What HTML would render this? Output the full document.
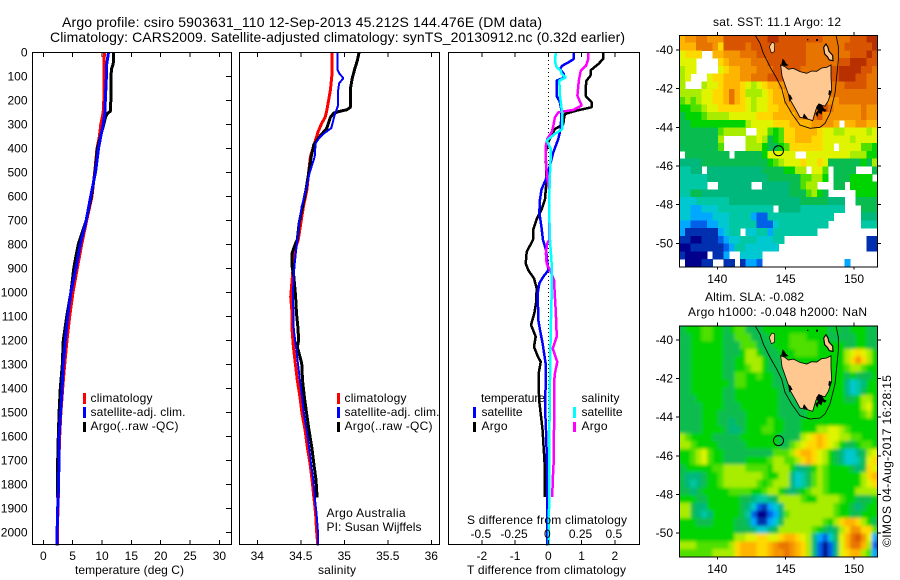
<!DOCTYPE html>
<html lang="en">
<head>
<meta charset="utf-8">
<title>Argo profile 5903631_110</title>
<style>
html,body{margin:0;padding:0;background:#fff;}
svg{display:block;}
text{font-family:"Liberation Sans",sans-serif;font-size:12px;fill:#000;}
.ttl{font-size:14px;}
.frame{fill:none;stroke:#000;stroke-width:1;shape-rendering:crispEdges;}
</style>
</head>
<body>
<svg id="chart" xmlns="http://www.w3.org/2000/svg" width="900" height="580" viewBox="0 0 900 580">
  <text class="ttl" x="62" y="27" textLength="480">Argo profile: csiro 5903631_110 12-Sep-2013 45.212S 144.476E (DM data)</text>
  <text class="ttl" x="50" y="42" textLength="575">Climatology: CARS2009. Satellite-adjusted climatology: synTS_20130912.nc (0.32d earlier)</text>

  <g id="maps"></g>
  <g id="plots"></g>

  <text x="75" y="574" textLength="109">temperature (deg C)</text>
  <text x="318" y="574" textLength="38">salinity</text>
  <text x="467" y="574" textLength="159">T difference from climatology</text>
  <text x="467" y="524" textLength="160">S difference from climatology</text>

  <g>
    <rect x="83" y="393" width="3" height="11" fill="#ff0000"/>
    <rect x="83" y="407" width="3" height="11" fill="#0000ff"/>
    <rect x="83" y="422" width="3" height="10" fill="#000"/>
    <text x="90.5" y="402" textLength="62">climatology</text>
    <text x="90.5" y="416" textLength="95">satellite-adj. clim.</text>
    <text x="90.5" y="430" textLength="88">Argo(..raw -QC)</text>
  </g>
  <g>
    <rect x="337" y="393" width="3" height="11" fill="#ff0000"/>
    <rect x="337" y="407" width="3" height="11" fill="#0000ff"/>
    <rect x="337" y="422" width="3" height="10" fill="#000"/>
    <text x="344.5" y="402" textLength="62">climatology</text>
    <text x="344.5" y="416" textLength="95">satellite-adj. clim.</text>
    <text x="344.5" y="430" textLength="88">Argo(..raw -QC)</text>
  </g>
  <text x="326.5" y="517" textLength="79">Argo Australia</text>
  <text x="326.5" y="531" textLength="95">PI: Susan Wijffels</text>

  <g>
    <text x="481" y="402" textLength="64">temperature</text>
    <text x="581.5" y="402" textLength="38">salinity</text>
    <rect x="473" y="407" width="3" height="11" fill="#0000ff"/>
    <rect x="473" y="422" width="3" height="10" fill="#000"/>
    <rect x="573" y="407" width="3" height="11" fill="#00ffff"/>
    <rect x="573" y="422" width="3" height="10" fill="#ff00ff"/>
    <text x="481.5" y="416" textLength="41">satellite</text>
    <text x="481.5" y="430" textLength="26">Argo</text>
    <text x="581.5" y="416" textLength="41">satellite</text>
    <text x="581.5" y="430" textLength="26">Argo</text>
  </g>

  <text x="777" y="26" text-anchor="middle" textLength="128">sat. SST: 11.1 Argo: 12</text>
  <text x="705" y="301" textLength="99">Altim. SLA: -0.082</text>
  <text x="688" y="316" textLength="179">Argo h1000: -0.048 h2000: NaN</text>
  <text transform="translate(891,547) rotate(-90)" textLength="172">©IMOS 04-Aug-2017 16:28:15</text>
</svg>

<script>
// ---- chart data ----
const depthTicks = [0,100,200,300,400,500,600,700,800,900,1000,1100,1200,1300,1400,1500,1600,1700,1800,1900,2000];
const tempTicks = [0,5,10,15,20,25,30];
const salTicks = [34,34.5,35,35.5,36];
const salTickLabels = ['34','34.5','35','35.5','36'];
const tDiffTicks = [-2,-1,0,1,2];
const sDiffTicks = [-0.5,-0.25,0,0.25,0.5];
const sDiffTickLabels = ['-0.5','-0.25','0','0.25','0.5'];
const lonTicks = [140,145,150];
const latTicks = [-40,-42,-44,-46,-48,-50];
const profileLon = [144.476];
const profileLat = [-45.212];

const tempClimDepth = [0,200,250,300,350,400,500,600,700,800,900,1000,1100,1200,1300,1400,1500,1600,1700,1800,1900,2000,2054];
const tempClim = [10.4,10.3,10.2,9.8,9.55,9.15,8.75,8.3,7.4,6.55,5.8,5.06,4.5,4.04,3.64,3.3,3.0,2.8,2.65,2.6,2.5,2.39,2.39];
const tempSatDepth = [0,50,100,200,250,300,350,400,500,600,700,800,900,1000,1100,1200,1300,1400,1500,1600,1700,1800,1900,2000,2054];
const tempSat = [11.1,10.8,10.75,10.56,10.5,10.2,9.8,9.4,8.9,8.07,7.3,6.3,5.55,4.7,4.15,3.75,3.4,3.2,2.95,2.7,2.65,2.6,2.45,2.35,2.35];
const tempArgoDepth = [0,50,70,100,200,245,255,270,300,350,400,500,600,700,800,850,900,1000,1100,1200,1300,1400,1500,1600,1700,1855];
const tempArgo = [12,11.9,11.6,11.55,11.5,11.45,10.9,10.6,10.3,9.75,9.2,8.8,8.2,7.3,5.96,5.55,5.2,4.7,3.98,3.4,3.24,2.9,2.7,2.56,2.45,2.45];

const salClimDepth = [0,87,157,200,240,270,296,330,365,400,435,504,573,643,712,782,810,880,949,1018,1088,1157,1227,1296,1366,1435,1505,1574,1644,1713,1782,1852,1921,1991,2054];
const salClim = [34.86,34.86,34.84,34.82,34.8,34.78,34.74,34.7,34.67,34.64,34.61,34.59,34.57,34.53,34.5,34.47,34.445,34.415,34.4,34.384,34.4,34.4,34.415,34.437,34.46,34.49,34.514,34.55,34.575,34.606,34.63,34.65,34.67,34.68,34.695];
const salSatDepth = [0,40,70,87,108,129,157,220,261,316,337,358,379,435,504,573,643,712,782,810,880,949,1018,1088,1157,1227,1296,1366,1435,1505,1574,1644,1713,1782,1852,1921,1991,2054];
const salSat = [34.92,34.92,34.92,34.94,34.99,34.94,34.93,34.93,34.89,34.85,34.77,34.71,34.67,34.66,34.6,34.56,34.51,34.48,34.46,34.45,34.43,34.415,34.41,34.415,34.42,34.445,34.467,34.49,34.514,34.536,34.567,34.594,34.617,34.644,34.66,34.68,34.695,34.695];
const salArgoDepth = [0,35,70,111,153,229,239,246,253,271,316,350,385,435,504,573,643,712,782,795,837,892,934,1018,1088,1143,1199,1227,1255,1296,1366,1435,1505,1574,1644,1713,1782,1855];
const salArgo = [35.17,35.15,35.12,35.09,35.07,35.07,35.03,34.95,34.88,34.84,34.8,34.72,34.65,34.62,34.59,34.56,34.52,34.48,34.46,34.44,34.4,34.4,34.42,34.44,34.45,34.465,34.476,34.46,34.48,34.51,34.52,34.54,34.567,34.594,34.625,34.65,34.675,34.687];

const dTArgoDepth = [0,28,49,76,97,118,153,181,208,229,243,257,278,299,320,348,375,417,528,612,654,695,737,782,831,880,908,942,984,1046,1088,1136,1185,1227,1262,1290,1331,1394,1456,1505,1574,1644,1713,1852];
const dTArgo = [1.66,1.65,1.5,1.27,1.27,1.15,1.12,1.12,1.3,1.3,0.85,0.5,0.47,0.45,0.2,0.1,0,-0.08,-0.05,-0.1,-0.2,-0.35,-0.45,-0.46,-0.65,-0.68,-0.6,-0.43,-0.35,-0.37,-0.42,-0.52,-0.38,-0.43,-0.33,-0.23,-0.28,-0.29,-0.27,-0.23,-0.17,-0.14,-0.11,-0.1];
const dTSatDepth = [0,28,42,56,70,90,107,118,181,208,243,320,361,417,472,528,570,612,667,723,782,824,908,935,963,1005,1116,1157,1213,1296,1366,1505,1574,1713,1852,1991,2054];
const dTSat = [0.77,0.77,0.6,0.42,0.35,0.47,0.45,0.25,0.25,0.35,0.4,0.37,0.3,0.15,0.05,-0.07,-0.2,-0.25,-0.27,-0.21,-0.16,-0.07,0,-0.15,-0.27,-0.32,-0.3,-0.25,-0.17,-0.08,-0.08,-0.09,-0.07,-0.04,-0.04,-0.03,-0.03];
const dSArgoDepth = [0,28,56,76,118,181,222,240,250,271,306,334,361,389,445,500,570,639,782,796,838,880,908,949,1018,1067,1130,1185,1234,1290,1338,1380,1435,1574,1713,1782,1852];
const dSArgo = [0.3,0.3,0.284,0.244,0.229,0.219,0.251,0.188,0.075,0.05,0.038,0.025,-0.008,-0.018,-0.018,-0.013,0.005,0.008,0.008,-0.008,-0.018,-0.013,0.013,0.043,0.05,0.055,0.06,0.063,0.033,0.068,0.05,0.043,0.043,0.043,0.04,0.033,0.03];
const dSSatDepth = [0,42,63,76,90,104,118,181,250,320,340,368,403,500,639,782,880,1018,1157,1366,1574,1713,2054];
const dSSat = [0.055,0.053,0.063,0.093,0.1,0.133,0.083,0.088,0.103,0.105,0.05,-0.013,0.02,0.013,0.005,0.013,0.025,0.025,0.018,0.013,0.008,0.008,0.003];

// heat-map rows: one letter = one colour level, '.' = no data
const sstRows = [
"nooppoooqqqqqqqqrrqqqqqqqqpppppqqqrr",
"nnnpppomqqqqpqqqqqqqqqqpppppppqqqqqr",
"lmmm..nnooopppqqqqqqqqqppppppppqqqrq",
"lll....mnoooopppqqqqqqqppppppqqrrrqq",
"kll....lmnnooopppqqqqqpppppqqrrrrqqp",
"kl...lmmnnnoopppqqqqqqppppqqqrrrqqpp",
"k...kllmnnnmlklmnnoppqqqqpppppqqqqpp",
"kkkkllmmnpnmkkklmnnopppqqqpppppppppp",
"jkjkllmmnpnmlkllmnnooppqqqpooppppppp",
"iijjkllmmmmmlkllmmnnoopppqqpooooopoo",
"hiiijkkkklllllmmmnnnnooppqooooooopoo",
"hhiiiiiiiiiikllllmmmnnnnoooon.nnoonn",
"hhhhhhhjkkkk..lljijmmnnnnmllkkllllkl",
"hhhhhhhk....kklkhijmmnnnmmlllllkllll",
"hhhhhhhj....kkkihhijmmmmmmll.lllljji",
".hhhhhhhh.hhhhhilllll..llllllllkkkii",
"gggghhhhhhhhhhhhijklllmllmlhhhhhhihk",
"ffgg.gggggggggghhhhiikk.llj.hhhh...h",
"fffffggggggggggghhhhhhjjkki.hhhiiii.",
"fffff..gggggg..ggggghhjkk...hh.iiiii",
"ffhhgggggggggggggggghhhjkih.....iiii",
"eeeffffffggggggggggggghhhhhggg..hhhh",
"eeddeeeffffffffff.ggggffffffff...hhh",
"eeddddeeeffffdccffffffffffff.....ggg",
"ddcccddeefffffcccefffffffff......fff",
"dbbbbbbdeff.eeffdffffffff...........",
"bbaabbbcdeefffeeeff...............bb",
"aabbbbbbcdffeeeeee................bb",
"baaaa.bbd..eeee.....................",
".aaabb..bb.bddc...............d....."
];
const slaRows = [
"hiiijjiihijjhhhiiiiiiiiiiiihihhiiihh",
"hhiijjiihhjjjhhhiiiijjjiiiihhhhhiihh",
"hhiiiiiihhhjjjhhhiiijjjjjiiiiihhiihh",
"hhiiiiiihhhikkihhhiiijjjjiiiiiklmlki",
"hhiiiiiihhiikkkihhhiiiiiiiiiiikmomki",
"hhiiiiiihhiijkkihhhiiiiiiiiiiijkkjii",
"hhiiiiiihhjjiijiihhhiiiiiiiiiihihhhi",
"hhiiiiiiihjjiiiiihhhhiiiiiiiiigefgii",
"hhiiiiiihhiiiiiiiihhhiiiiiiiiigefhii",
"hhhiiiiihhiiiiiiiihhhhiiiiiiiihhikki",
"hhhhiiiihhhiiiiiiihhhhhiiiiiiiiiikli",
"hhhhiiihhhhhiiiiiihhhhhiiiiiiiiiijki",
"hhhhiiihhghhiiiijiihhhiiiiiiiiiiiiii",
"hhhhiiiihgghiiijjiihhhiiikkllkjiiiii",
"kjiiiihhhhhiiiiiiihhhhklmnmllkkjjiii",
"kkjiiiihhhhhiiiiiihhjklmmnmlkihhijji",
"iijkljiihhhhhhhhhjjjkmnnmlkihgeeghkl",
"iijkljiihhhhiiiijkkjjkmnmlkihgeefhlm",
"hiiiiijjkkkkjjjjikkkigghikjiiiihghml",
"hggghiijkkkkkkkjiikkgefhjkjiiiiiikmn",
"hgfghiijkkkkkkjijkkkgefhjkjiiiiiiklm",
"hhghiiiiijjjjiijkkihghijkkjiiiiikkkk",
"iiihhiiiiiihhgffghkkkkjiikkkkjiihhhi",
"kkhggiiiiiihgecbdegkkkkkkkkkjiihghii",
"kkhgfgiiiiihfcaacdgjkkkkkkkkjiihhiii",
"iiihhhiiiihhgdbbdehkkkkkkkjikmnnmkih",
"iiiiiiiiiihhhgeeghkkkkkkjihghkmoommj",
"iiiiiiiiiikkllmmllmnnmlkgdcehlnpqold",
"kkkjjjjjjkmnnnmmnopponmkgcacglnppnkc",
"jjjjjjkkkkmnnnmmnooponmkgcacglmnnkjd"
];
const levelKeys = ['a','b','c','d','e','f','g','h','i','j','k','l','m','n','o','p','q','r'];
const levelColors = ['#00008c','#0030b0','#0060e8','#00a8ff','#00c8d0','#00c8a4','#00b87c','#08bc50','#00d400','#50e000','#a8ec00','#e0f400','#ffd800','#ffb400','#f49400','#e87400','#d85400','#b83000'];

// ---- build ----
const NS = 'http://www.w3.org/2000/svg';
const plots = document.getElementById('plots');
const maps = document.getElementById('maps');

function make(tag, parent, props) {
  const el = document.createElementNS(NS, tag);
  for (const k in props) el.setAttribute(k, props[k]);
  parent.appendChild(el);
  return el;
}

// axis functions
const yDepth = d => 52.3 + 0.24 * d;
const xTemp = t => 43.3 + 5.87 * t;
const xSal = s => 257.3 + 87 * (s - 34);
const xDT = t => 548.3 + 33.25 * t;
const xDS = s => 548.3 + 133 * s;

function drawProfile(parent, name, depths, values, xFn, color, width) {
  const pts = depths.map((d, i) => xFn(values[i]).toFixed(1) + ',' + yDepth(d).toFixed(1)).join(' ');
  const el = make('polyline', parent, {points: pts, fill: 'none', stroke: color, 'stroke-width': width, 'stroke-linejoin': 'bevel', 'shape-rendering': 'crispEdges'});
  
  
}

function tick(parent, name, x1, y1, x2, y2) {
  const el = make('line', parent, {x1: x1, y1: y1, x2: x2, y2: y2, stroke: '#000', 'stroke-width': 1, 'shape-rendering': 'crispEdges'});
  
  
}

function label(parent, name, x, y, str, anchor) {
  const el = make('text', parent, {x: x, y: y, 'text-anchor': anchor});
  el.textContent = str;
  
  
}

function frame(parent, name, x, y, w, h) {
  const el = make('rect', parent, {x: x, y: y, width: w, height: h, class: 'frame'});
  
  
}

// temperature panel
const tempPanel = make('g', plots, {});


drawProfile(tempPanel, 'temperature-climatology-line', tempClimDepth, tempClim, xTemp, '#ff0000', 3);
drawProfile(tempPanel, 'temperature-argo-line', tempArgoDepth, tempArgo, xTemp, '#000000', 3);
drawProfile(tempPanel, 'temperature-satellite-line', tempSatDepth, tempSat, xTemp, '#0000ff', 3);
frame(tempPanel, 'temperature-plot-frame', 32.5, 52.5, 199, 492);
depthTicks.forEach(d => {
  tick(tempPanel, 'depth-tick', 226, yDepth(d), 231, yDepth(d));
  label(tempPanel, 'depth-tick-label', 27.5, yDepth(d) + 4, String(d), 'end');
});
tempTicks.forEach(t => {
  tick(tempPanel, 'temperature-tick-top', xTemp(t), 52, xTemp(t), 57);
  tick(tempPanel, 'temperature-tick-bottom', xTemp(t), 540, xTemp(t), 545);
  label(tempPanel, 'temperature-tick-label', xTemp(t), 560, String(t), 'middle');
});

// salinity panel
const salPanel = make('g', plots, {});


drawProfile(salPanel, 'salinity-climatology-line', salClimDepth, salClim, xSal, '#ff0000', 3);
drawProfile(salPanel, 'salinity-argo-line', salArgoDepth, salArgo, xSal, '#000000', 3);
drawProfile(salPanel, 'salinity-satellite-line', salSatDepth, salSat, xSal, '#0000ff', 2);
frame(salPanel, 'salinity-plot-frame', 239.5, 52.5, 200, 492);
salTicks.forEach((s, i) => {
  tick(salPanel, 'salinity-tick-top', xSal(s), 52, xSal(s), 57);
  tick(salPanel, 'salinity-tick-bottom', xSal(s), 540, xSal(s), 545);
  label(salPanel, 'salinity-tick-label', xSal(s), 560, salTickLabels[i], 'middle');
});

// difference panel
const diffPanel = make('g', plots, {});


const zeroLine = make('line', diffPanel, {x1: xDT(0), y1: 52, x2: xDT(0), y2: 545, stroke: '#000', 'stroke-width': 1, 'stroke-dasharray': '1 3', 'shape-rendering': 'crispEdges'});


drawProfile(diffPanel, 't-difference-argo-line', dTArgoDepth, dTArgo, xDT, '#000000', 2.5);
drawProfile(diffPanel, 't-difference-satellite-line', dTSatDepth, dTSat, xDT, '#0000ff', 2.5);
drawProfile(diffPanel, 's-difference-argo-line', dSArgoDepth, dSArgo, xDS, '#ff00ff', 2.5);
drawProfile(diffPanel, 's-difference-satellite-line', dSSatDepth, dSSat, xDS, '#00ffff', 2.5);
frame(diffPanel, 'difference-plot-frame', 448.5, 52.5, 191, 492);
tDiffTicks.forEach(t => {
  tick(diffPanel, 't-difference-tick-top', xDT(t), 52, xDT(t), 57);
  tick(diffPanel, 't-difference-tick-bottom', xDT(t), 540, xDT(t), 545);
  label(diffPanel, 't-difference-tick-label', xDT(t), 560, String(t), 'middle');
});
sDiffTicks.forEach((s, i) => {
  label(diffPanel, 's-difference-tick-label', xDS(s) - 1, 538, sDiffTickLabels[i], 'middle');
});

// map panels
const cellW = 5.5;
const cellH1 = 231.7 / 30;
const cellH2 = 231 / 30;
const defs = make('defs', maps, {});
const smooth = make('filter', defs, {id: 'smooth', x: '-5%', y: '-5%', width: '110%', height: '110%'});
make('feGaussianBlur', smooth, {stdDeviation: '1.7'});

function drawMap(name, rows, left, top, cellH, lat40Y, latScale, blur) {
  const g = make('g', maps, {});
  
  
  const xLon = lon => 717.3 + 13.67 * (lon - 140);
  const yLat = lat => lat40Y + (-40 - lat) * latScale;
  const clip = make('clipPath', defs, {id: name + '-clip'});
  make('rect', clip, {x: 679.5, y: top + 0.5, width: 198, height: cellH * 30});
  const clipped = make('g', g, {'clip-path': 'url(#' + name + '-clip)'});
  
  
  const cells = make('g', clipped, blur ? {filter: 'url(#smooth)'} : {});
  
  
  // blurred fields bleed past the frame so the clip hides any soft edge
  const pad = blur ? 8 : 0;
  rows.forEach((row, r) => {
    for (let c = 0; c < row.length; c++) {
      const level = levelKeys.indexOf(row[c]);
      if (level < 0) continue;
      const padL = c === 0 ? pad : 0;
      const padR = c === row.length - 1 ? pad : 0;
      const padT = r === 0 ? pad : 0;
      const padB = r === rows.length - 1 ? pad : 0;
      const cell = make('rect', cells, {x: left + c * cellW - padL, y: top + r * cellH - padT, width: cellW + 0.4 + padL + padR, height: cellH + 0.4 + padT + padB, fill: levelColors[level], 'shape-rendering': 'crispEdges'});
      
      
    }
  });
  const coast = make('use', g, {href: '#coast', transform: 'translate(660,' + (top - 25) + ')'});
  
  
  const marker = make('circle', g, {cx: xLon(profileLon[0]), cy: yLat(profileLat[0]), r: 5, fill: 'none', stroke: '#000', 'stroke-width': 1});
  
  
  frame(g, 'map-frame', 679.5, top + 0.5, 198, cellH * 30);
  const bottom = top + cellH * 30;
  lonTicks.forEach(lon => {
    tick(g, 'longitude-tick-top', xLon(lon), top - 3, xLon(lon), top);
    tick(g, 'longitude-tick-bottom', xLon(lon), bottom, xLon(lon), bottom + 3);
    label(g, 'longitude-tick-label', xLon(lon), bottom + 16.5, String(lon), 'middle');
  });
  latTicks.forEach(lat => {
    tick(g, 'latitude-tick-left', 676, yLat(lat), 679, yLat(lat));
    tick(g, 'latitude-tick-right', 878, yLat(lat), 881, yLat(lat));
    label(g, 'latitude-tick-label', 673, yLat(lat) + 4, String(lat), 'end');
  });
}

// coastline artwork shared by both maps (coordinates are drawing geometry, 1/3 px units)
const coastGroup = make('g', defs, {id: 'coast', transform: 'scale(0.33333)'});
coastGroup.innerHTML =
  '<path d="M285 75L300 100L310 130L330 170L350 205L365 235L375 275L395 310L420 345L450 355L480 352L495 340L510 310L525 250L530 200L535 150L535 110L528 75" fill="none" stroke="#000" stroke-width="2.5"/>' +
  '<path d="M362 165L375 170L385 178L400 175L420 185L440 190L455 183L470 184L485 174L500 172L513 165L513 200L515 240L505 272L495 288L478 285L468 298L458 332L440 326L420 322L408 300L392 272L380 238L366 198Z" fill="#ffc890" stroke="#000" stroke-width="2.5"/>' +
  '<path d="M364 164L368 146L374 152L378 160L386 166L376 168Z M384 250L392 256L398 268L392 268L388 276L386 262Z M468 292L476 280L486 284L492 296L500 300L494 306L488 302L484 314L476 308L472 322L466 310L474 302Z M432 310L444 326L428 322Z M507 240L515 244L511 258L505 254Z" fill="#000"/>' +
  '<path d="M328 110L336 97L344 100L343 125L334 129Z" fill="#ffc890" stroke="#000" stroke-width="2"/>' +
  '<path d="M491 112L498 102L504 112L507 124L518 136L519 152L508 150L502 140L494 132Z" fill="#ffc890" stroke="#000" stroke-width="3.5"/>' +
  '<rect x="441" y="87" width="4" height="4" fill="#000"/><rect x="468" y="87" width="6" height="6" fill="#000"/>';

drawMap('sst-map', sstRows, 679.5, 35, cellH1, 50, 19.33, false);
drawMap('sla-map', slaRows, 679.5, 325.7, cellH2, 340, 19.3, true);
</script>
</body>
</html>
